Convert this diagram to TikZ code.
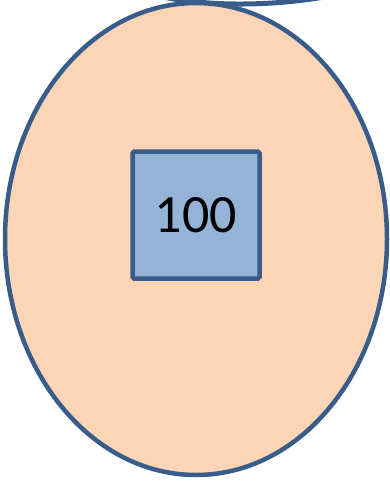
\documentclass[tikz,border=0pt]{standalone}
\usepackage{fontspec}
\setmainfont{Carlito}
\usepackage{xcolor}
\usetikzlibrary{shapes.geometric}
\definecolor{edgeblue}{HTML}{385D8A}
\definecolor{peach}{HTML}{FBD5B5}
\definecolor{cellblue}{HTML}{95B3D7}
\begin{document}
\begin{tikzpicture}[
    x=1pt, y=-1pt,
    blob/.style={draw=edgeblue, fill=peach, ellipse, line width=4.5pt, inner sep=0pt},
    cell/.style={draw=edgeblue, fill=cellblue, line width=4.5pt, rounded corners=1.5pt, minimum size=127pt, inner sep=0pt, font=\fontsize{54}{64}\selectfont}
]
\useasboundingbox (0,0) rectangle (390,482);
\begin{scope}
\clip (0,0) rectangle (390,482);
% part of the shape above, cut by the frame
\coordinate (tl) at (150,-6);
\coordinate (tr) at (330,-4);
\draw[edgeblue, line width=5pt] (tl) .. controls (200,7) and (270,7) .. (tr);
\node[blob, minimum width=382pt, minimum height=472pt] (outer) at (196,239) {};
\end{scope}
\node[cell] (val) at (196,215) {100};
\end{tikzpicture}
\end{document}
